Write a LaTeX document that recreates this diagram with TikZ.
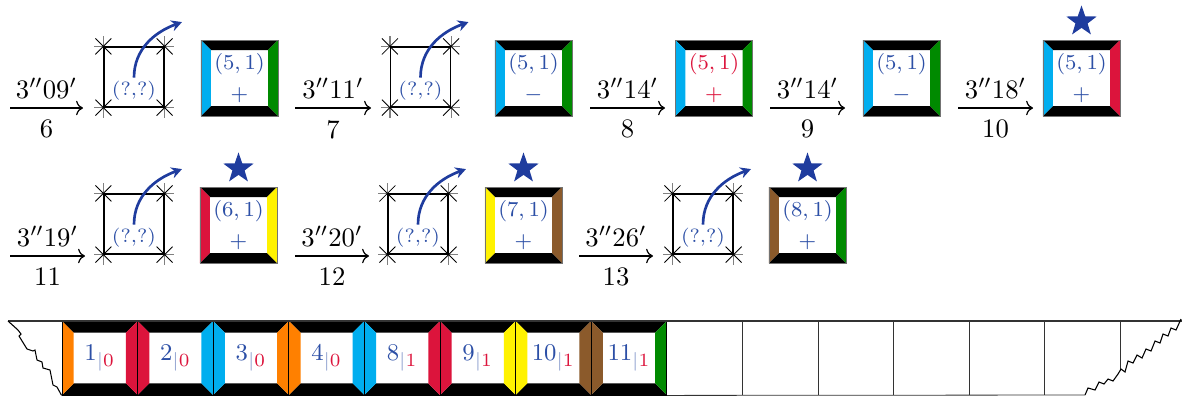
\documentclass[tikz,border=0pt]{standalone}
\usetikzlibrary{arrows.meta,positioning,shapes.geometric}
\definecolor{tileink}{HTML}{2C4FA6}
\definecolor{hopblue}{HTML}{1F3C9E}
\definecolor{tilecyan}{HTML}{00AEEF}
\definecolor{tilegreen}{HTML}{008A00}
\definecolor{tilered}{HTML}{DC143C}
\definecolor{tileorange}{HTML}{FF8000}
\definecolor{tileyellow}{HTML}{FFF200}
\definecolor{tilebrown}{HTML}{8B5A2B}
\def\rimw{3.75pt}
\tikzset{
  rim/.code={\def\rimw{#1}},
  bevel/.style 2 args={path picture={
      \fill[black] (path picture bounding box.north west) -- (path picture bounding box.north east)
        -- ([shift={(-\rimw,-\rimw)}]path picture bounding box.north east)
        -- ([shift={(\rimw,-\rimw)}]path picture bounding box.north west) -- cycle;
      \fill[black] (path picture bounding box.south west) -- (path picture bounding box.south east)
        -- ([shift={(-\rimw,\rimw)}]path picture bounding box.south east)
        -- ([shift={(\rimw,\rimw)}]path picture bounding box.south west) -- cycle;
      \fill[#1] (path picture bounding box.north west) -- (path picture bounding box.south west)
        -- ([shift={(\rimw,\rimw)}]path picture bounding box.south west)
        -- ([shift={(\rimw,-\rimw)}]path picture bounding box.north west) -- cycle;
      \fill[#2] (path picture bounding box.north east) -- (path picture bounding box.south east)
        -- ([shift={(-\rimw,\rimw)}]path picture bounding box.south east)
        -- ([shift={(-\rimw,-\rimw)}]path picture bounding box.north east) -- cycle;
    }},
  tile/.style 2 args={rectangle,draw=black!55,line width=.3pt,inner sep=0pt,
    minimum width=28.9pt,minimum height=28.5pt,bevel={#1}{#2},text=tileink,
    align=center,font=\fontsize{8.5}{11.4}\selectfont},
  cell/.style 2 args={rectangle,draw=black,line width=.3pt,inner sep=0pt,
    minimum width=28.35pt,minimum height=27.75pt,rim=4.4pt,bevel={#1}{#2},
    font=\fontsize{9.5}{10}\selectfont},
  slot/.style={rectangle,draw=black,line width=.45pt,minimum size=22.5pt,inner sep=0pt},
  query/.style={text=tileink,font=\fontsize{7.2}{8}\selectfont,inner sep=1pt},
  hop/.style={-{Stealth[length=4pt,width=4.2pt]},draw=hopblue,line width=1pt},
  tick/.style={->,line width=.45pt},
  lbl/.style={font=\fontsize{10}{12}\selectfont},
  badge/.style={star,star points=5,star point ratio=2.5,fill=hopblue,inner sep=0pt,
    minimum size=12pt}
}
\begin{document}
\begin{tikzpicture}[x=0.375pt,y=0.375pt]
  \useasboundingbox (0,0) rectangle (1182,396);
  % first row
  \node[slot] (s1) at (134,319) {};
  \node[tile={tilecyan}{tilegreen}] (t1) at (239.5,318) {$(5,1)$\\$+$};
  \node[slot] (s2) at (420.5,319) {};
  \node[tile={tilecyan}{tilegreen}] (t2) at (533.5,318) {$(5,1)$\\$-$};
  \node[tile={tilecyan}{tilegreen},text=tilered] (t3) at (714,318) {$(5,1)$\\$+$};
  \node[tile={tilecyan}{tilegreen}] (t4) at (901.5,318) {$(5,1)$\\$-$};
  \node[tile={tilecyan}{tilered}] (t5) at (1081.5,318) {$(5,1)$\\$+$};
  % second row
  \node[slot] (s3) at (134,172) {};
  \node[tile={tilered}{tileyellow}] (t6) at (238.5,171) {$(6,1)$\\$+$};
  \node[slot] (s4) at (418,172) {};
  \node[tile={tileyellow}{tilebrown}] (t7) at (523.5,171) {$(7,1)$\\$+$};
  \node[slot] (s5) at (703,172) {};
  \node[tile={tilebrown}{tilegreen}] (t8) at (807.5,171) {$(8,1)$\\$+$};

  \foreach \t in {t5,t6,t7,t8}
    \node[badge] (b\t) at ([yshift=6.8pt]\t.north) {};

  % empty slots: cut corners and the hop out
  \foreach \s in {1,...,5}{
    \foreach \c/\dx/\dy in {north west/-1/1,north east/1/1,south west/-1/-1,south east/1/-1}{
      \draw[gray,line width=.45pt] (s\s.\c) -- ++(\dx*3.4pt,0);
      \draw[gray,line width=.45pt] (s\s.\c) -- ++(0,\dy*3.8pt);
      \draw[line width=.3pt] ([shift={(-3pt,-3pt)}]s\s.\c) -- ++(6pt,6pt);
      \draw[line width=.3pt] ([shift={(-3pt,3pt)}]s\s.\c) -- ++(6pt,-6pt);
    }
    \node[query] (q\s) at ([yshift=-5pt]s\s.center) {(?,?)};
    \coordinate (h\s) at ([shift={(18pt,20.6pt)}]s\s.center);
    \draw[hop] (q\s.north) to[out=90,in=200] (h\s);
  }

  % timed steps
  \foreach \n/\xs/\xe/\y/\m in {6/10/83/288/09,7/295/371/288/11,8/590/665/288/14,
      9/770/845/288/14,10/958/1033/288/18,11/10/85/140/19,12/295/369/140/20,13/579/653/140/26}{
    \coordinate (a\n s) at (\xs,\y);
    \coordinate (a\n e) at (\xe,\y);
    \draw[tick] (a\n s) -- node[lbl,above]{$3''\m'$} node[lbl,below=1pt]{\n} (a\n e);
  }

  % the strip
  \foreach \i/\lc/\rc/\cn/\ck in {1/tileorange/tilered/1/0,2/tilered/tilecyan/2/0,
      3/tilecyan/tileorange/3/0,4/tileorange/tilecyan/4/0,5/tilecyan/tilered/8/1,
      6/tilered/tileyellow/9/1,7/tileyellow/tilebrown/10/1,8/tilebrown/tilegreen/11/1}
    \node[cell={\lc}{\rc}] (c\i) at ({24.2+75.6*\i},38)
      {$\textcolor{tileink}{\cn}_{\textcolor{tileink!55}{|}\textcolor{tilered}{\ck}}$};
  \draw[black!80,line width=.45pt] (8,75) -- (1182,75);
  \draw[black!80,line width=.3pt] (c8.south east) -- (1085,1);
  \foreach \x in {742.4,818,893.6,969.2,1044.8}
    \draw[black!80,line width=.3pt] (\x,75) -- (\x,1);
  \draw[black!80,line width=.3pt] (1120.4,75) -- (1120.4,26);
  % torn ends
  \draw[line width=.4pt] (8,75) -- (18,66) -- (21,62) -- (19,60) -- (27,47) -- (33,45)
    -- (35,46) -- (37,36) -- (42,34) -- (43,28) -- (50,26) -- (53,11) -- (57,9) -- (c1.south west);
  \draw[line width=.4pt] (1085,1) -- (1088,8) -- (1095,6) -- (1099,14) -- (1104,12)
    -- (1108,17) -- (1113,15) -- (1118,22) -- (1121,27) -- (1125,24) -- (1128,35)
    -- (1133,33) -- (1137,41) -- (1142,38) -- (1146,47) -- (1151,45) -- (1155,55)
    -- (1160,53) -- (1163,62) -- (1168,60) -- (1171,68) -- (1176,66) -- (1181,77);
\end{tikzpicture}
\end{document}
